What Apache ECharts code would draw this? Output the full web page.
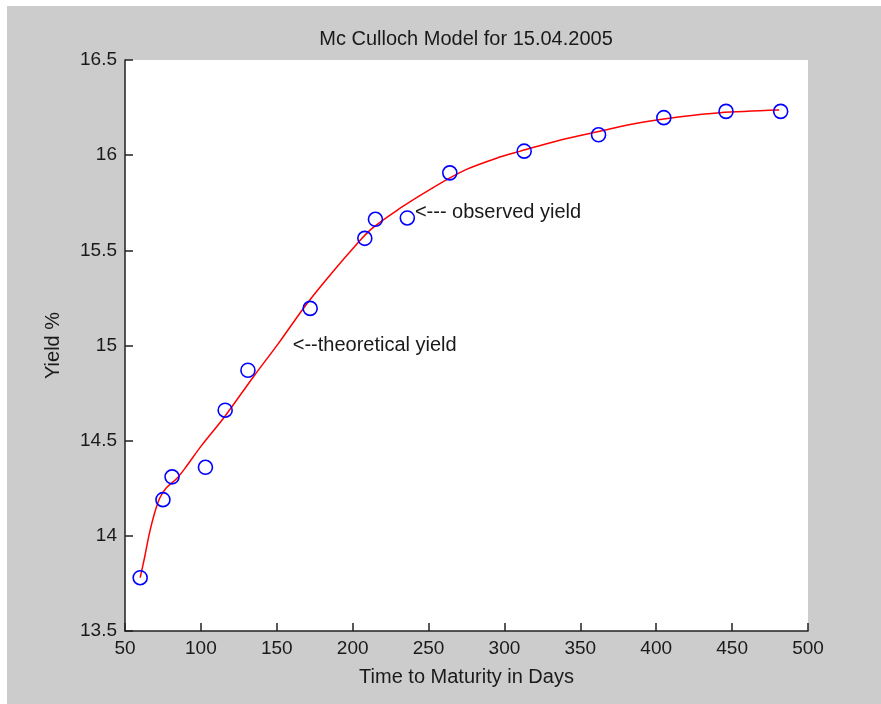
<!DOCTYPE html>
<html>
<head>
<meta charset="utf-8">
<script src="https://cdn.jsdelivr.net/npm/echarts@6/dist/echarts.min.js"></script>
<style>
html,body{margin:0;padding:0;background:#fff;}
#chart{width:881px;height:704px;}
</style>
</head>
<body>
<div id="chart"></div>
<script>
// Observed yields (blue circles)
var maturityDays = [60, 75, 81, 103, 116, 131, 172, 208, 215, 236, 264, 313, 362, 405, 446, 482];
var observedYield = [13.78, 14.19, 14.31, 14.36, 14.66, 14.87, 15.195, 15.563, 15.663, 15.67, 15.907, 16.021, 16.107, 16.197, 16.23, 16.23];

// Theoretical (McCulloch) curve, red line
var curveDays = [60, 63, 66, 69.5, 73, 77, 84, 90, 100, 116, 135, 151, 168, 182, 198, 212, 231, 253, 275, 297, 310, 337, 363, 389, 416, 442, 481];
var curveYield = [13.78, 13.89, 14.01, 14.12, 14.20, 14.25, 14.30, 14.36, 14.47, 14.63, 14.84, 15.01, 15.20, 15.34, 15.49, 15.61, 15.72, 15.83, 15.925, 15.99, 16.02, 16.08, 16.126, 16.17, 16.202, 16.223, 16.237];

// Axis ticks
var xTicks = [50, 500, 50];      // min, max, interval
var yTicks = [13.5, 16.5, 0.5];  // min, max, interval

var titleText = 'Mc Culloch Model for 15.04.2005';
var xName = 'Time to Maturity in Days';
var yName = 'Yield %';
var annotations = [
  {text: '<--- observed yield', at: [241, 15.70]},
  {text: '<--theoretical yield', at: [160.5, 15.0]}
];

var FONT = '"Liberation Sans", Arial, sans-serif';
var TXT = '#1a1a1a';

function zip(a, b) { return a.map(function (v, i) { return [v, b[i]]; }); }

var chart = echarts.init(document.getElementById('chart'));
var option = {
  backgroundColor: '#cccccc',
  animation: false,
  title: {
    text: titleText,
    left: 461, top: 24, textAlign: 'center',
    textStyle: {fontFamily: FONT, fontSize: 20, fontWeight: 'normal', color: TXT}
  },
  grid: {
    left: 125, right: 73, top: 60, bottom: 73,
    show: true, backgroundColor: '#ffffff', borderWidth: 0
  },
  xAxis: {
    type: 'value', min: xTicks[0], max: xTicks[1], interval: xTicks[2],
    name: xName, nameLocation: 'middle', nameGap: 36,
    nameTextStyle: {fontFamily: FONT, fontSize: 20, color: TXT},
    axisLine: {show: true, onZero: false, lineStyle: {color: '#222', width: 1.5}},
    axisTick: {show: true, inside: true, length: 8, lineStyle: {color: '#222', width: 1.5}},
    axisLabel: {fontFamily: FONT, fontSize: 19, color: TXT, margin: 8},
    splitLine: {show: false}
  },
  yAxis: {
    type: 'value', min: yTicks[0], max: yTicks[1], interval: yTicks[2],
    name: yName, nameLocation: 'middle', nameGap: 62,
    nameTextStyle: {fontFamily: FONT, fontSize: 20, color: TXT},
    axisLine: {show: true, onZero: false, lineStyle: {color: '#222', width: 1.5}},
    axisTick: {show: true, inside: true, length: 8, lineStyle: {color: '#222', width: 1.5}},
    axisLabel: {fontFamily: FONT, fontSize: 19, color: TXT, margin: 8},
    splitLine: {show: false}
  },
  series: [
    {
      name: 'theoretical', type: 'line', data: zip(curveDays, curveYield),
      showSymbol: false, smooth: 0.3, z: 2,
      lineStyle: {color: '#ff0000', width: 1.5}
    },
    {
      name: 'observed', type: 'scatter', data: zip(maturityDays, observedYield),
      symbol: 'circle', symbolSize: 14, z: 3,
      itemStyle: {color: 'rgba(0,0,0,0)', borderColor: '#0000ff', borderWidth: 1.6, opacity: 1}
    }
  ],
  graphic: [
    {type: 'rect', shape: {x: 0, y: 0, width: 881, height: 6}, style: {fill: '#ffffff'}, silent: true},
    {type: 'rect', shape: {x: 0, y: 0, width: 7, height: 704}, style: {fill: '#ffffff'}, silent: true}
  ]
};
chart.setOption(option);

var extra = annotations.map(function (a) {
  var p = chart.convertToPixel({gridIndex: 0}, a.at);
  return {
    type: 'text', x: p[0], y: p[1], z: 10,
    style: {text: a.text, fontFamily: FONT, fontSize: 20, fill: TXT, textAlign: 'left', textVerticalAlign: 'middle'}
  };
});
chart.setOption({graphic: option.graphic.concat(extra)});
</script>
</body>
</html>
